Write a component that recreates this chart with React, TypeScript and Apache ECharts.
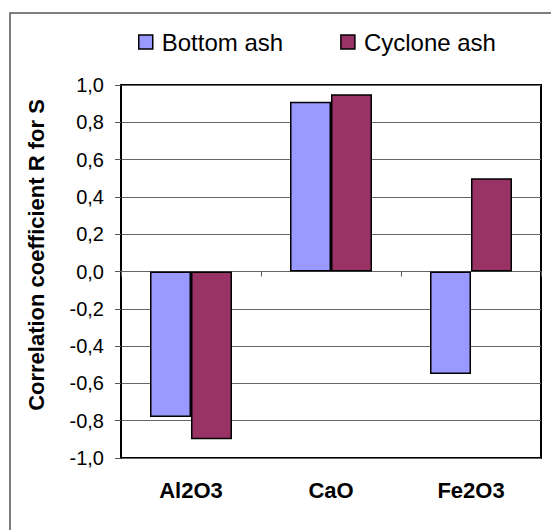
import React, { useEffect, useRef } from "react";
import * as echarts from "echarts";

const categories = ["Al2O3", "CaO", "Fe2O3"];
const bottomAsh = [-0.78, 0.91, -0.55];
const cycloneAsh = [-0.9, 0.95, 0.5];
const seriesNames = ["Bottom ash", "Cyclone ash"];
const yTitle = "Correlation coefficient R for S";

const FONT = '"Liberation Sans", Arial, sans-serif';

export default function App() {
  const ref = useRef<HTMLDivElement>(null);
  useEffect(() => {
    if (!ref.current) return;
    const chart = echarts.init(ref.current, undefined, { renderer: "svg" });
    chart.setOption({
      animation: false,
      textStyle: { fontFamily: FONT },
      legend: {
        left: 138,
        top: 30,
        padding: 0,
        itemWidth: 14,
        itemHeight: 14,
        itemGap: 57,
        icon: "rect",
        data: seriesNames,
        textStyle: { fontSize: 24, color: "#000", fontFamily: FONT, padding: [0, 0, 0, 4] },
        itemStyle: { borderColor: "#000", borderWidth: 1.5 },
      },
      grid: {
        left: 121,
        top: 85,
        width: 420,
        height: 373,
        show: true,
        borderColor: "#000",
        borderWidth: 2,
        backgroundColor: "transparent",
      },
      xAxis: [
        {
          type: "category",
          data: categories,
          axisLine: { show: true, onZero: true, lineStyle: { color: "#666", width: 1 } },
          axisTick: { show: true, length: 5, lineStyle: { color: "#555", width: 1 } },
          axisLabel: { show: false },
          splitLine: { show: false },
        },
        {
          type: "category",
          data: categories,
          position: "bottom",
          axisLine: { show: false, onZero: false },
          axisTick: { show: false },
          axisLabel: {
            margin: 21,
            fontSize: 22,
            fontWeight: "bold",
            color: "#000",
            fontFamily: FONT,
          },
        },
      ],
      yAxis: {
        type: "value",
        min: -1,
        max: 1,
        interval: 0.2,
        axisLine: { show: true, lineStyle: { color: "#000", width: 2 } },
        axisTick: { show: true, length: 6, lineStyle: { color: "#555", width: 1 } },
        axisLabel: {
          margin: 17,
          fontSize: 20,
          color: "#000",
          fontFamily: FONT,
          formatter: (v: number) => v.toFixed(1).replace(".", ","),
        },
        splitLine: { show: true, lineStyle: { color: "#666", width: 1 } },
      },
      graphic: [
        {
          type: "rect",
          shape: { x: 10, y: 13, width: 700, height: 700 },
          style: { fill: "none", stroke: "#555", lineWidth: 1.5 },
          silent: true,
        },
        {
          type: "text",
          x: 36,
          y: 255,
          rotation: Math.PI / 2,
          style: {
            text: yTitle,
            fontSize: 22,
            fontWeight: "bold",
            fontFamily: FONT,
            fill: "#000",
            textAlign: "center",
            textVerticalAlign: "middle",
          },
        },
      ],
      series: [
        {
          name: seriesNames[0],
          type: "bar",
          xAxisIndex: 0,
          data: bottomAsh,
          barWidth: 41,
          barGap: "0%",
          itemStyle: { color: "#9999FF", borderColor: "#000", borderWidth: 1.5 },
        },
        {
          name: seriesNames[1],
          type: "bar",
          xAxisIndex: 0,
          data: cycloneAsh,
          barWidth: 41,
          barGap: "0%",
          itemStyle: { color: "#993366", borderColor: "#000", borderWidth: 1.5 },
        },
      ],
    });
    return () => chart.dispose();
  }, []);
  return (
    <div
      ref={ref}
      style={{ position: "fixed", left: 0, top: 0, width: 551, height: 530, background: "#fff" }}
    />
  );
}
